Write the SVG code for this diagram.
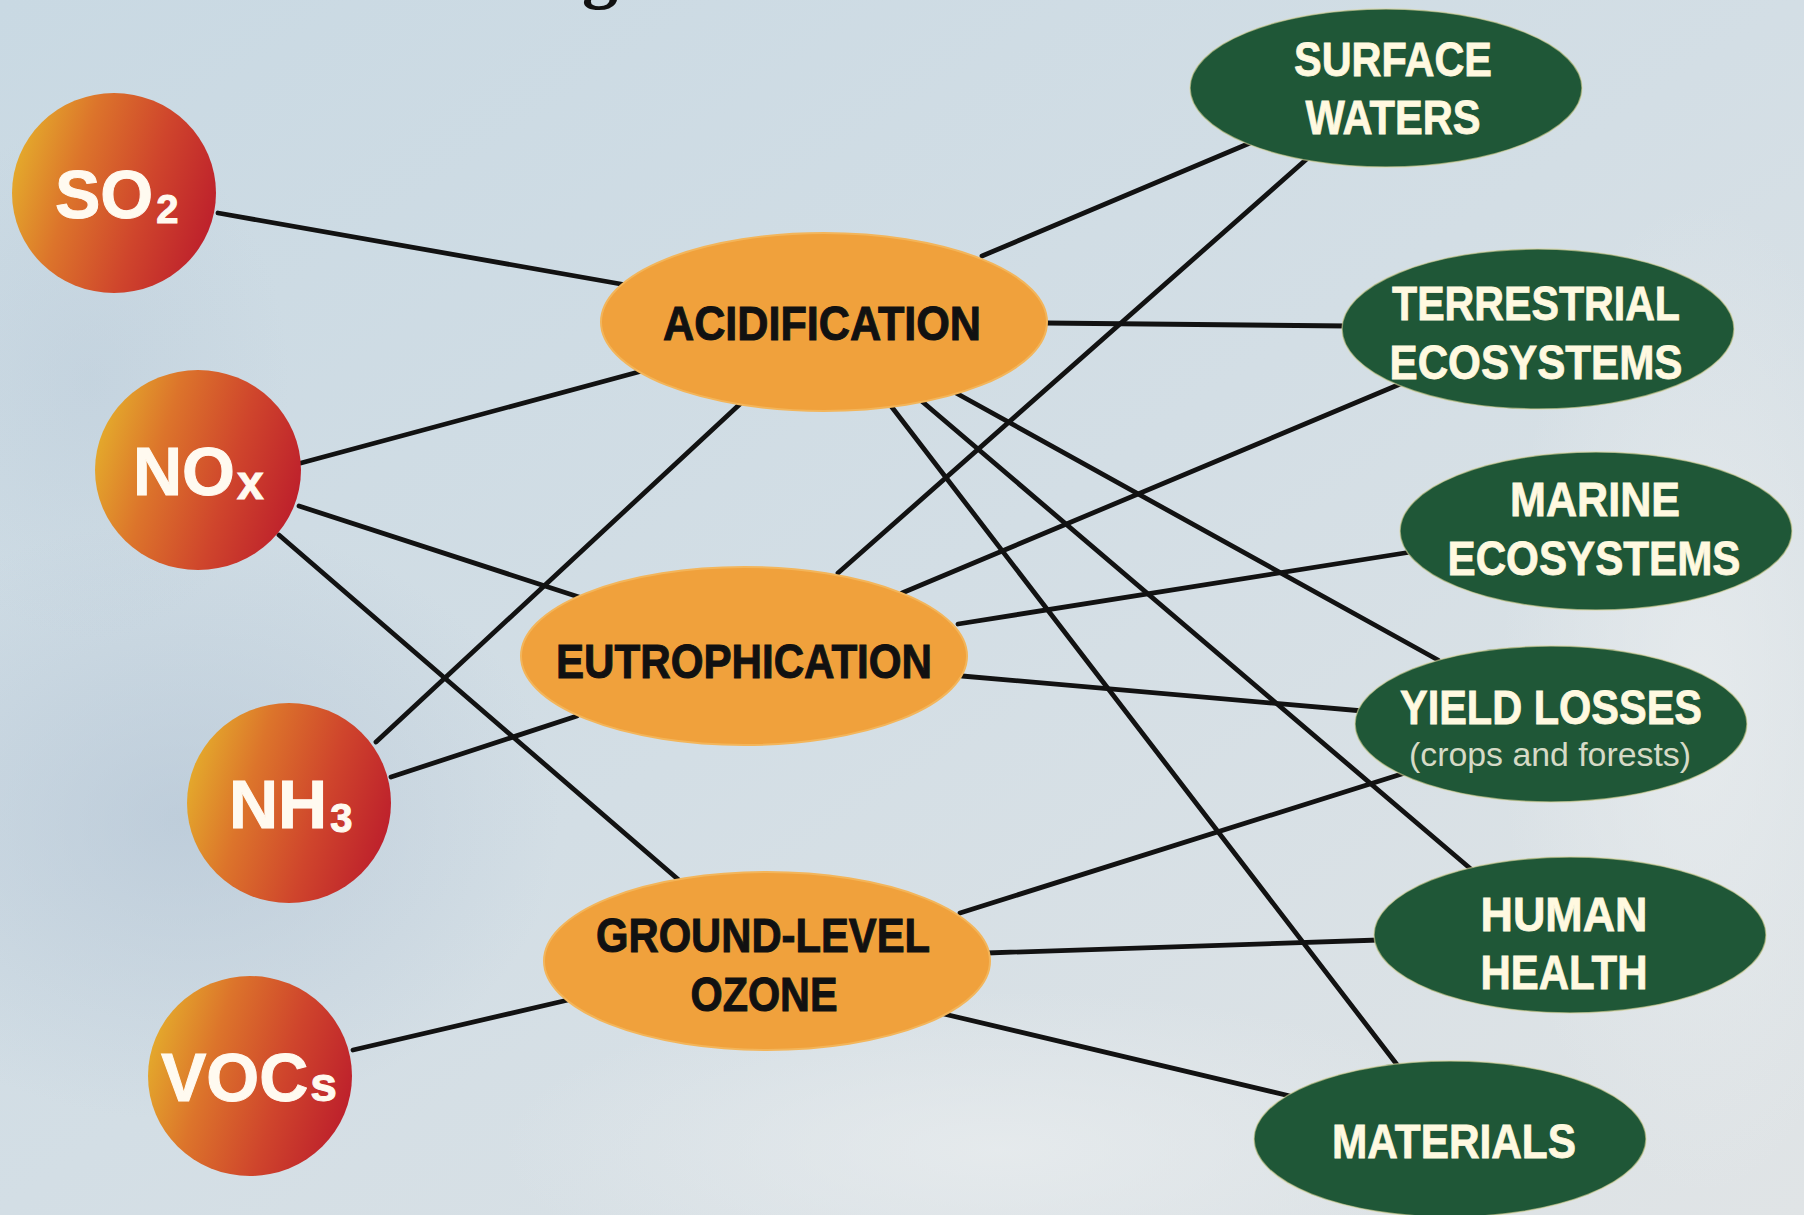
<svg xmlns="http://www.w3.org/2000/svg" width="1804" height="1215" viewBox="0 0 1804 1215">
<defs>
<linearGradient id="bg" x1="0" y1="0" x2="1" y2="1">
<stop offset="0" stop-color="#c9d9e3"/>
<stop offset="0.5" stop-color="#d3dee5"/>
<stop offset="1" stop-color="#e0e4e6"/>
</linearGradient>
<radialGradient id="cloud1" cx="0.5" cy="0.5" r="0.5">
<stop offset="0" stop-color="#b2c3d4" stop-opacity="0.6"/>
<stop offset="1" stop-color="#b2c3d4" stop-opacity="0"/>
</radialGradient>
<radialGradient id="cloud2" cx="0.5" cy="0.5" r="0.5">
<stop offset="0" stop-color="#e8ecee" stop-opacity="0.8"/>
<stop offset="1" stop-color="#e8ecee" stop-opacity="0"/>
</radialGradient>
<linearGradient id="ball" x1="0" y1="0.35" x2="1" y2="0.65">
<stop offset="0" stop-color="#e4ab2c"/>
<stop offset="0.3" stop-color="#dc742b"/>
<stop offset="0.65" stop-color="#cf452c"/>
<stop offset="1" stop-color="#bd1f2c"/>
</linearGradient>
<style>
.ball{fill:url(#ball);}
.orange{fill:#f0a13c;stroke:#f3b55a;stroke-width:2;}
.green{fill:#1f5737;stroke:#d8d49a;stroke-width:1.5;stroke-opacity:0.6;}
.ct{font-family:"Liberation Sans",Arial,sans-serif;font-weight:bold;fill:#fffaf0;stroke:#fffaf0;stroke-width:1;font-size:68px;}
.ot{font-family:"Liberation Sans",Arial,sans-serif;font-weight:bold;fill:#111;stroke:#111;stroke-width:1;font-size:48px;text-anchor:middle;}
.gt{font-family:"Liberation Sans",Arial,sans-serif;font-weight:bold;fill:#fff9e0;stroke:#fff9e0;stroke-width:0.8;font-size:48px;text-anchor:middle;}
.small{font-family:"Liberation Sans",Arial,sans-serif;font-weight:normal;fill:#d6dac6;font-size:33px;text-anchor:middle;}
#connectors line{stroke:#121212;stroke-width:4.8;stroke-linecap:round;}
</style>
</defs>
<rect width="1804" height="1215" fill="url(#bg)"/>
<ellipse cx="180" cy="820" rx="380" ry="300" fill="url(#cloud1)"/>
<ellipse cx="90" cy="380" rx="200" ry="260" fill="url(#cloud1)" opacity="0.5"/>
<ellipse cx="1000" cy="1150" rx="500" ry="160" fill="url(#cloud2)"/>
<ellipse cx="1700" cy="700" rx="200" ry="500" fill="url(#cloud2)"/>
<text x="600" y="-5" font-family="Liberation Serif,serif" font-weight="bold" font-size="72" text-anchor="middle" fill="#111">g</text>

<g id="connectors">
<line x1="218" y1="213" x2="632" y2="286"/>
<line x1="301" y1="463" x2="642" y2="371"/>
<line x1="299" y1="506" x2="585" y2="599"/>
<line x1="279" y1="535" x2="680" y2="881"/>
<line x1="376" y1="742" x2="740" y2="404"/>
<line x1="391" y1="777" x2="577" y2="716"/>
<line x1="353" y1="1050" x2="568" y2="1000"/>
<line x1="982" y1="256" x2="1250" y2="143"/>
<line x1="1045" y1="323" x2="1348" y2="326"/>
<line x1="956" y1="393" x2="1438" y2="660"/>
<line x1="918" y1="398" x2="1472" y2="870"/>
<line x1="891" y1="406" x2="1398" y2="1066"/>
<line x1="838" y1="573" x2="1309" y2="157"/>
<line x1="902" y1="593" x2="1405" y2="382"/>
<line x1="958" y1="624" x2="1411" y2="552"/>
<line x1="962" y1="676" x2="1363" y2="711"/>
<line x1="960" y1="913" x2="1408" y2="772"/>
<line x1="987" y1="953" x2="1379" y2="940"/>
<line x1="944" y1="1014" x2="1290" y2="1096"/>
</g>

<g id="so2">
<ellipse class="ball" cx="114" cy="193" rx="102" ry="100"/>
<text class="ct" x="55" y="218">SO<tspan font-size="40" dx="3" dy="5">2</tspan></text>
</g>
<g id="nox">
<ellipse class="ball" cx="198" cy="470" rx="103" ry="100"/>
<text class="ct" x="133" y="495">NO<tspan font-size="48" dx="2" dy="4">x</tspan></text>
</g>
<g id="nh3">
<ellipse class="ball" cx="289" cy="803" rx="102" ry="100"/>
<text class="ct" x="229" y="828">NH<tspan font-size="40" dx="3" dy="4">3</tspan></text>
</g>
<g id="vocs">
<ellipse class="ball" cx="250" cy="1076" rx="102" ry="100"/>
<text class="ct" x="161" y="1101">VOC<tspan font-size="48" dx="2">s</tspan></text>
</g>

<g id="acidification">
<ellipse class="orange" cx="824" cy="322" rx="223" ry="89"/>
<text class="ot" x="822" y="340" textLength="318" lengthAdjust="spacingAndGlyphs">ACIDIFICATION</text>
</g>
<g id="eutrophication">
<ellipse class="orange" cx="744" cy="656" rx="223" ry="89"/>
<text class="ot" x="744" y="678" textLength="376" lengthAdjust="spacingAndGlyphs">EUTROPHICATION</text>
</g>
<g id="ozone">
<ellipse class="orange" cx="767" cy="961" rx="223" ry="89"/>
<text class="ot" x="763" y="952" textLength="334" lengthAdjust="spacingAndGlyphs">GROUND-LEVEL</text>
<text class="ot" x="764" y="1011" textLength="147" lengthAdjust="spacingAndGlyphs">OZONE</text>
</g>

<g id="surface-waters">
<ellipse class="green" cx="1386" cy="88" rx="196" ry="79"/>
<text class="gt" x="1393" y="76" textLength="198" lengthAdjust="spacingAndGlyphs">SURFACE</text>
<text class="gt" x="1393" y="134" textLength="175" lengthAdjust="spacingAndGlyphs">WATERS</text>
</g>
<g id="terrestrial">
<ellipse class="green" cx="1538" cy="329" rx="196" ry="80"/>
<text class="gt" x="1536" y="320" textLength="288" lengthAdjust="spacingAndGlyphs">TERRESTRIAL</text>
<text class="gt" x="1536" y="379" textLength="293" lengthAdjust="spacingAndGlyphs">ECOSYSTEMS</text>
</g>
<g id="marine">
<ellipse class="green" cx="1596" cy="531" rx="196" ry="79"/>
<text class="gt" x="1595" y="516" textLength="170" lengthAdjust="spacingAndGlyphs">MARINE</text>
<text class="gt" x="1594" y="575" textLength="293" lengthAdjust="spacingAndGlyphs">ECOSYSTEMS</text>
</g>
<g id="yield-losses">
<ellipse class="green" cx="1551" cy="724" rx="196" ry="78"/>
<text class="gt" x="1551" y="724" textLength="302" lengthAdjust="spacingAndGlyphs">YIELD LOSSES</text>
<text class="small" x="1550" y="766" textLength="282" lengthAdjust="spacingAndGlyphs">(crops and forests)</text>
</g>
<g id="human-health">
<ellipse class="green" cx="1570" cy="935" rx="196" ry="78"/>
<text class="gt" x="1564" y="931" textLength="167" lengthAdjust="spacingAndGlyphs">HUMAN</text>
<text class="gt" x="1564" y="989" textLength="167" lengthAdjust="spacingAndGlyphs">HEALTH</text>
</g>
<g id="materials">
<ellipse class="green" cx="1450" cy="1139" rx="196" ry="78"/>
<text class="gt" x="1454" y="1158" textLength="244" lengthAdjust="spacingAndGlyphs">MATERIALS</text>
</g>
</svg>
